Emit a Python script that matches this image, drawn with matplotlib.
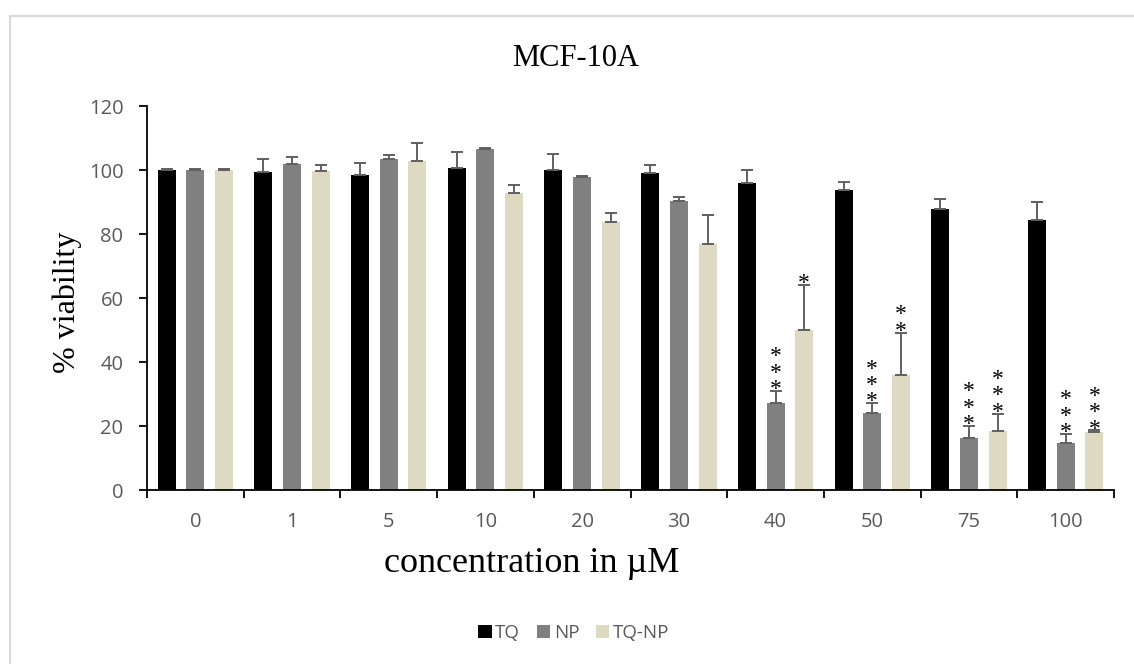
import matplotlib
matplotlib.use("Agg")
import matplotlib.pyplot as plt
from matplotlib.lines import Line2D
import numpy as np

# Concentrations (µM) and mean viability (%) with SD for each treatment
concentrations = ["0", "1", "5", "10", "20", "30", "40", "50", "75", "100"]
tq_mean    = [100.0, 99.3, 98.5, 100.5, 99.9, 99.2, 96.0, 93.8, 87.9, 84.5]
tq_sd      = [0.3, 4.0, 3.8, 5.2, 5.1, 2.3, 4.0, 2.4, 3.0, 5.5]
np_mean    = [100.0, 102.0, 103.5, 106.6, 97.8, 90.3, 27.3, 24.2, 16.1, 14.7]
np_sd      = [0.2, 2.2, 1.1, 0.2, 0.2, 1.2, 3.7, 3.0, 4.0, 2.9]
tqnp_mean  = [100.0, 99.8, 102.8, 92.7, 83.6, 76.8, 50.0, 36.0, 18.4, 18.2]
tqnp_sd    = [0.2, 1.8, 5.5, 2.6, 3.0, 9.1, 14.0, 13.2, 5.5, 0.4]
series_names = ["TQ", "NP", "TQ-NP"]
series_colors = ["#000000", "#808080", "#DDD9C3"]

# Significance stars: (group index, series index, number of stars)
stars = [(6, 1, 3), (6, 2, 1), (7, 1, 3), (7, 2, 2),
         (8, 1, 3), (8, 2, 3), (9, 1, 3), (9, 2, 3)]

W, H = 1134, 664
fig = plt.figure(figsize=(W / 100, H / 100), dpi=100)
fig.patch.set_facecolor("white")

# light chart-area frame (top and left edges)
fig.add_artist(Line2D([10 / W, 10 / W], [0, 1 - 16 / H], color="#d9d9d9", lw=1.5,
                      transform=fig.transFigure))
fig.add_artist(Line2D([10 / W, 1], [1 - 16 / H, 1 - 16 / H], color="#d9d9d9", lw=1.5,
                      transform=fig.transFigure))

left, right, bottom, top = 147, 1114, 490, 106
ax = fig.add_axes([left / W, 1 - bottom / H, (right - left) / W, (bottom - top) / H])

n = len(concentrations)
centers = np.arange(n) + 0.5
offsets = [-0.297, 0.0, 0.297]
width = 0.186
means = [tq_mean, np_mean, tqnp_mean]
sds = [tq_sd, np_sd, tqnp_sd]

for s in range(3):
    ax.bar(centers + offsets[s], means[s], width, color=series_colors[s],
           label=series_names[s],
           yerr=[np.zeros(n), sds[s]],
           error_kw=dict(ecolor="#606060", elinewidth=1.4, capsize=4.5, capthick=1.4),
           zorder=2)

# stacked asterisks above the error caps, one text block per bar
for g, s, k in stars:
    x = centers[g] + offsets[s]
    y = means[s][g] + sds[s][g]
    ax.annotate("\n".join(["*"] * k), xy=(x, y), xytext=(0, -6.5),
                textcoords="offset points", ha="center", va="bottom",
                multialignment="center", linespacing=0.70, fontsize=17,
                family="Liberation Serif", color="#000000", zorder=3)

ax.set_xlim(0, n)
ax.set_ylim(0, 120)
ax.set_yticks(np.arange(0, 121, 20))
ax.set_xticks(np.arange(0, n + 1), minor=False)
ax.set_xticklabels([""] * (n + 1))
ax.set_xticks(centers, minor=True)
ax.set_xticklabels(concentrations, minor=True)
ax.tick_params(axis="x", which="minor", length=0, pad=16, labelsize=14.5,
               labelcolor="#595959")
ax.tick_params(axis="x", which="major", length=6, width=1.3, direction="out", color="black")
ax.tick_params(axis="y", length=6, width=1.3, direction="out", labelsize=14.5,
               labelcolor="#595959", pad=11)
for lab in ax.get_xticklabels(minor=True) + ax.get_yticklabels():
    lab.set_family("Open Sans")

for side in ["top", "right"]:
    ax.spines[side].set_visible(False)
for side in ["left", "bottom"]:
    ax.spines[side].set_linewidth(1.3)
    ax.spines[side].set_color("black")

fig.text(576 / W, 1 - 58 / H, "MCF-10A", ha="center", va="center",
         family="Liberation Serif", fontsize=22, color="black")
fig.text(67 / W, 1 - 302 / H, "% viability", ha="center", va="center", rotation=90,
         family="Liberation Serif", fontsize=23, color="black")
fig.text(532 / W, 1 - 563 / H, "concentration in µM", ha="center", va="center",
         family="Liberation Serif", fontsize=26, color="black")

leg = ax.legend(loc="center", bbox_to_anchor=(574 / W, 1 - 633 / H),
                bbox_transform=fig.transFigure, ncol=3, frameon=False,
                handlelength=0.7, handleheight=0.7, handletextpad=0.2,
                columnspacing=0.9, prop={"family": "Open Sans", "size": 13.5})
for t in leg.get_texts():
    t.set_color("#595959")

fig.savefig("out.png", dpi=100, facecolor="white")
